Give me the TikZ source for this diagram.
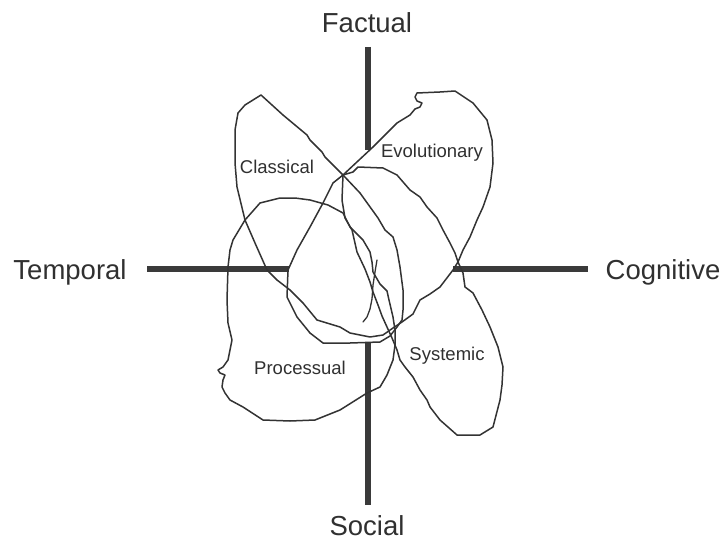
\documentclass[tikz,border=0pt]{standalone}
\usepackage{fontspec}
\setmainfont{Liberation Sans}
\definecolor{barc}{HTML}{3A3A3A}
\definecolor{inkc}{HTML}{333333}
\definecolor{txtc}{HTML}{303030}
\begin{document}
\begin{tikzpicture}[x=1pt,y=-1pt,
  axisbar/.style={line width=6.5pt,draw=barc},
  loopline/.style={line width=1.5pt,draw=inkc,line join=round,line cap=round},
  thinline/.style={line width=1.3pt,draw=inkc,line cap=round,line join=round},
  axislabel/.style={font=\fontsize{27.5}{30}\selectfont,text=txtc,anchor=base,inner sep=0pt},
  petallabel/.style={font=\fontsize{18.5}{20}\selectfont,text=txtc,anchor=base,inner sep=0pt}]
\useasboundingbox (0,0) rectangle (722,540);
% axes
\draw[axisbar] (368,47) -- (368,150);
\draw[axisbar] (368,343) -- (368,505);
\draw[axisbar] (147,269) -- (289,269);
\draw[axisbar] (453,269) -- (588,269);
% figure-eight: Classical + Evolutionary
\draw[loopline] (343,175) -- (358,161) -- (373,147) -- (387,133) -- (397,123) -- (410,115) -- (415,109) -- (420,107) -- (422,103) -- (417,101) -- (415,97) -- (417,93) -- (440,92) -- (455,91) -- (473,103) -- (487,120) -- (492,140) -- (493,163) -- (490,187) -- (483,207) -- (477,220) -- (470,237) -- (463,250) -- (458,262) -- (453,270) -- (440,287) -- (430,294) -- (420,300) -- (413,314) -- (402,322) -- (393,328) -- (383,335) -- (370,337) -- (350,333) -- (340,327) -- (317,320) -- (303,303) -- (290,290) -- (277,280) -- (267,270) -- (255,243) -- (245,220) -- (237,187) -- (235,163) -- (235,130) -- (238,113) -- (245,105) -- (261,95) -- (283,115) -- (307,135) -- (310,140) -- (322,152) -- (325,157) -- cycle;
% Systemic
\draw[loopline] (343,175) -- (353,172) -- (358,167) -- (383,168) -- (397,175) -- (410,190) -- (420,197) -- (427,207) -- (437,218) -- (443,230) -- (450,243) -- (455,253) -- (458,262) -- (463,273) -- (465,287) -- (473,293) -- (482,310) -- (490,327) -- (498,347) -- (503,367) -- (502,385) -- (500,400) -- (493,427) -- (480,435) -- (457,435) -- (440,420) -- (430,407) -- (427,400) -- (420,390) -- (413,377) -- (405,367) -- (400,360) -- (397,350) -- (392,338) -- (387,327) -- (382,316) -- (378,305) -- (373,292) -- (370,282) -- (365,269) -- (357,252) -- (352,230) -- (345,218) -- (342,200) -- cycle;
% inner lobe
\draw[loopline] (343,175) -- (333,183) -- (323,203) -- (310,227) -- (297,250) -- (288,270) -- (287,297) -- (297,317) -- (310,333) -- (323,343) -- (350,343) -- (380,342) -- (390,336) -- (397,327) -- (402,320) -- (403,310) -- (403,290) -- (400,267) -- (397,250) -- (393,237) -- (385,230) -- (378,218) -- (360,193) -- cycle;
% Processual
\draw[loopline] (280,198) -- (295,198) -- (310,200) -- (328,205) -- (343,213) -- (350,227) -- (363,240) -- (370,252) -- (372,262) -- (373,272) -- (380,284) -- (387,291) -- (389,300) -- (393,317) -- (395,330) -- (395,345) -- (393,360) -- (387,375) -- (380,387) -- (367,393) -- (340,410) -- (315,420) -- (290,421) -- (263,420) -- (243,407) -- (230,400) -- (225,393) -- (222,387) -- (223,380) -- (225,375) -- (220,373) -- (218,370) -- (223,367) -- (228,360) -- (230,350) -- (232,340) -- (228,323) -- (227,300) -- (228,267) -- (230,250) -- (233,240) -- (245,220) -- (260,203) -- cycle;
% thin stroke
\draw[thinline] (377,260) -- (375,272) -- (373,285) -- (372,299) -- (370,309) -- (367,317) -- (363,322);
% labels
\node[axislabel] (factual) at (367,33) {Factual};
\node[axislabel] (social) at (367,535) {Social};
\node[axislabel] (temporal) at (70,279) {Temporal};
\node[axislabel] (cognitive) at (663,279) {Cognitive};
\node[petallabel] (classical) at (277,174) {Classical};
\node[petallabel] (evolutionary) at (432,158) {Evolutionary};
\node[petallabel] (processual) at (300,374) {Processual};
\node[petallabel] (systemic) at (447,360) {Systemic};
\end{tikzpicture}
\end{document}
